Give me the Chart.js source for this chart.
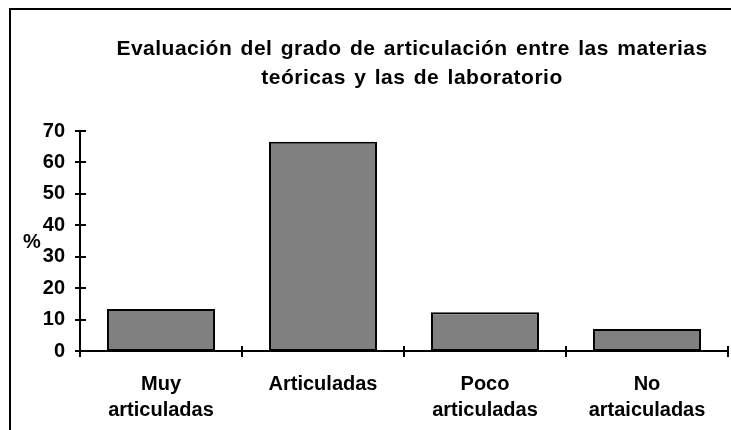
<!DOCTYPE html>
<html>
<head>
<meta charset="utf-8">
<script src="https://cdn.jsdelivr.net/npm/chart.js"></script>
<style>
  html, body { margin: 0; padding: 0; background: #fff; overflow: hidden; }
  #wrap { position: relative; width: 731px; height: 430px; }
  #frame { position: absolute; left: 9px; top: 8px; width: 740px; height: 440px;
           border-left: 2px solid #000; border-top: 2px solid #000; }
  #title { position: absolute; left: 112px; width: 600px; top: 33px; text-align: center;
           font: bold 21px "Liberation Sans", Arial, sans-serif; line-height: 29px; color: #000;
           letter-spacing: 0.5px; word-spacing: 2px; }
  #ylab { position: absolute; left: 23px; top: 230px;
          font: bold 20px "Liberation Sans", Arial, sans-serif; color: #000; }
  canvas { position: absolute; left: 0; top: 0; }
</style>
</head>
<body>
<div id="wrap">
  <div id="frame"></div>
  <canvas id="chart" width="731" height="430"></canvas>
  <div id="title">Evaluación del grado de articulación entre las materias<br>teóricas y las de laboratorio</div>
  <div id="ylab">%</div>
</div>
<script>
// datos
const categorias = [['Muy', 'articuladas'], ['Articuladas'], ['Poco', 'articuladas'], ['No', 'artaiculadas']];
const porcentajes = [13.4, 66.6, 12.3, 7.0];
const yTicks = [0, 10, 20, 30, 40, 50, 60, 70];

const fuente = '"Liberation Sans", Arial, sans-serif';

// marcas de eje que cruzan la línea (como en Excel)
const crossTicks = {
  id: 'crossTicks',
  afterDraw(chart) {
    const { ctx, scales: { x, y } } = chart;
    ctx.save();
    ctx.strokeStyle = '#000';
    ctx.lineWidth = 2;
    ctx.beginPath();
    y.ticks.forEach(t => {
      const py = Math.round(y.getPixelForValue(t.value));
      ctx.moveTo(x.left - 5, py);
      ctx.lineTo(x.left + 6, py);
    });
    for (let i = 0; i <= categorias.length; i++) {
      const px = Math.round(x.getPixelForValue(i - 0.5));
      ctx.moveTo(px, y.bottom - 5);
      ctx.lineTo(px, y.bottom + 6);
    }
    ctx.stroke();
    ctx.restore();
  }
};

new Chart(document.getElementById('chart'), {
  type: 'bar',
  data: {
    labels: categorias,
    datasets: [{
      data: porcentajes,
      backgroundColor: '#808080',
      borderColor: '#000',
      borderWidth: 2,
      borderSkipped: false,
      barPercentage: 0.667,
      categoryPercentage: 1
    }]
  },
  options: {
    responsive: false,
    animation: false,
    devicePixelRatio: 1,
    layout: { padding: { top: 131, right: 3, left: 0, bottom: 0 } },
    plugins: { legend: { display: false }, tooltip: { enabled: false }, title: { display: false } },
    scales: {
      x: {
        grid: { display: false, drawTicks: false },
        border: { display: true, color: '#000', width: 2 },
        ticks: {
          color: '#000', padding: 20, maxRotation: 0, autoSkip: false,
          font: { family: fuente, size: 20, weight: 'bold', lineHeight: 1.32 }
        },
        afterFit(s) { s.height = 79; }
      },
      y: {
        min: 0, max: 70,
        afterBuildTicks(s) { s.ticks = yTicks.map(v => ({ value: v })); },
        grid: { display: false, drawTicks: false },
        border: { display: true, color: '#000', width: 2 },
        ticks: {
          color: '#000', padding: 15,
          font: { family: fuente, size: 20, weight: 'bold' }
        },
        afterFit(s) { s.width = 80; }
      }
    }
  },
  plugins: [crossTicks]
});
</script>
</body>
</html>
